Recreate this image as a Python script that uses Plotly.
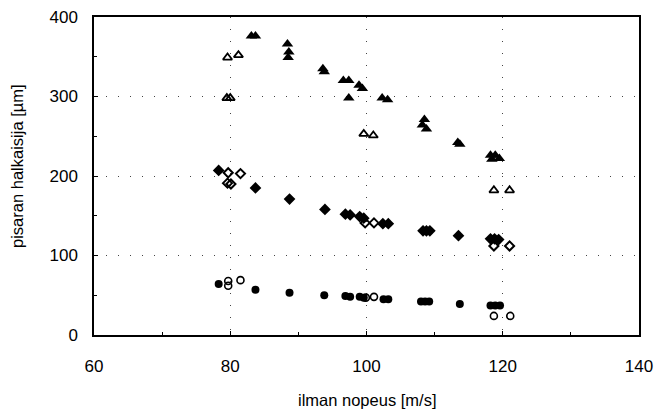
import plotly.graph_objects as go

# filled triangles
ft_x = [83.1, 83.7, 88.4, 88.6, 88.5, 93.6, 93.8, 96.6, 97.4, 97.4, 98.9, 99.4, 102.3, 103.1,
        108.5, 108.2, 108.8, 113.4, 113.7, 118.2, 118.9, 119.5, 118.4]
ft_y = [376, 376, 366, 356, 349, 335, 331, 320, 320, 298, 314, 310, 298, 296,
        271, 264, 259, 242, 240, 226, 226, 222, 221]
# open triangles
ot_x = [79.6, 81.2, 79.5, 80.0, 99.6, 101.0, 118.7, 121.0]
ot_y = [349, 352, 298, 298, 253, 251, 182, 182]
# filled diamonds
fd_x = [78.3, 83.7, 88.7, 93.9, 96.9, 97.6, 99.0, 99.6, 102.4, 103.2, 108.3, 108.8, 109.3,
        113.5, 118.2, 118.8, 119.4]
fd_y = [207, 185, 171, 158, 152, 151, 149, 147, 140, 140, 131, 131, 131, 125, 121, 121, 120]
# open diamonds
od_x = [79.7, 81.5, 79.6, 80.1, 99.8, 101.1, 118.7, 121.0]
od_y = [204, 203, 191, 190, 141, 141, 112, 112]
# filled circles
fc_x = [78.3, 83.7, 88.7, 93.8, 96.9, 97.6, 99.0, 99.6, 102.5, 103.2, 108.0, 108.6, 109.2,
        113.7, 118.2, 118.9, 119.6]
fc_y = [64, 57, 53, 50, 49, 48, 48, 47, 45, 45, 42, 42, 42, 39, 37, 37, 37]
# open circles
oc_x = [79.7, 79.7, 81.5, 99.9, 101.1, 118.7, 121.1]
oc_y = [68, 62, 69, 47, 48, 24, 24]

x_ticks = [60, 80, 100, 120, 140]
y_ticks = [0, 100, 200, 300, 400]
x_title = "ilman nopeus [m/s]"
y_title = "pisaran halkaisija [µm]"

fig = go.Figure()

def add(x, y, symbol, size, lw=0):
    fig.add_trace(go.Scatter(
        x=x, y=y, mode="markers",
        marker=dict(symbol=symbol, size=size, color="black",
                    line=dict(color="black", width=lw)),
        showlegend=False, hoverinfo="x+y"))

add(ft_x, ft_y, "triangle-up", 10)
add(ot_x, ot_y, "triangle-up-open", 8, 1.8)
add(fd_x, fd_y, "diamond", 9)
add(od_x, od_y, "diamond-open", 7, 2)
add(fc_x, fc_y, "circle", 8)
add(oc_x, oc_y, "circle-open", 7, 1.6)

font = dict(family="Liberation Sans, Arial, sans-serif", color="black")

axis_common = dict(
    showline=True, linecolor="black", linewidth=1.5, mirror=True,
    ticks="inside", ticklen=4, tickcolor="black", tickwidth=1,
    showgrid=True, gridcolor="#444", gridwidth=1, griddash="1px,11px",
    zeroline=False, tickfont=dict(size=17, **font), automargin=False,
)

fig.update_xaxes(range=[60, 140], tickvals=x_ticks, ticktext=[str(v) for v in x_ticks],
                 ticklabelstandoff=15,
                 minor=dict(dtick=10, tick0=60, ticks="inside", ticklen=3,
                            tickcolor="black", showgrid=False),
                 **axis_common)
fig.update_yaxes(range=[0, 400], tickvals=y_ticks, ticktext=[str(v) for v in y_ticks],
                 ticklabelstandoff=11,
                 minor=dict(dtick=50, tick0=0, ticks="inside", ticklen=3,
                            tickcolor="black", showgrid=False),
                 **axis_common)

fig.add_annotation(text=x_title, xref="paper", yref="paper", x=0.5, y=0,
                   yshift=-65, showarrow=False, xanchor="center", yanchor="middle",
                   font=dict(size=16.5, **font))
fig.add_annotation(text=y_title, xref="paper", yref="paper", x=0, y=0.5,
                   xshift=-77, yshift=10, showarrow=False, textangle=-90,
                   xanchor="center", yanchor="middle", font=dict(size=16.5, **font))

fig.update_layout(
    width=655, height=417,
    margin=dict(l=94, r=16, t=17, b=82),
    paper_bgcolor="white", plot_bgcolor="white",
    font=font,
)

# remove the page's default 8px body margin so the figure fills the window exactly
fig.write_html("out.html",
               config={"displayModeBar": False},
               post_script="document.body.style.margin='0';document.body.style.overflow='hidden';")
